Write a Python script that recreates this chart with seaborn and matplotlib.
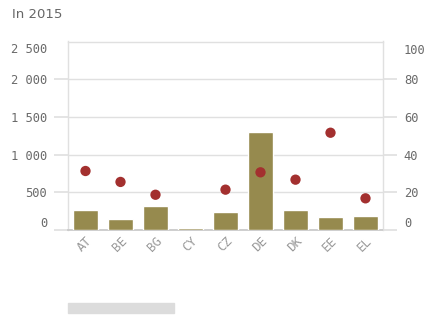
import matplotlib
matplotlib.use("Agg")
import matplotlib.pyplot as plt
import matplotlib.transforms as mtransforms
import seaborn as sns
import pandas as pd
from matplotlib.patches import Rectangle

countries = ["AT", "BE", "BG", "CY", "CZ", "DE", "DK", "EE", "EL"]
bar_values = [265, 150, 313, 22, 233, 1304, 260, 172, 180]
dot_values = [31.3, 25.5, 18.7, None, 21.4, 30.6, 26.7, 51.6, 16.8]
left_ticks = [0, 500, 1000, 1500, 2000, 2500]
left_labels = ["0", "500", "1 000", "1 500", "2 000", "2 500"]
right_ticks = [0, 20, 40, 60, 80, 100]
title = "In 2015"

sns.set_theme(style="white")
plt.rcParams["font.family"] = ["DejaVu Sans Mono", "DejaVu Sans"]

df = pd.DataFrame({"country": countries, "value": bar_values, "rate": dot_values})

fig = plt.figure(figsize=(4.26, 3.15), dpi=100)
ax = fig.add_axes([68/426, 1-230/315, (383-68)/426, (230-41.5)/315])
sns.barplot(data=df, x="country", y="value", color="#968A4E", saturation=1,
            width=0.71, ax=ax, zorder=3)
ax.set_ylim(0, 2500)
ax.set_yticks(left_ticks)
ax.set_yticklabels(left_labels)
ax.set_xlim(-0.5, len(countries) - 0.5)
ax.grid(axis="y", color="#e0e0e0", lw=1, zorder=0)
ax.set_axisbelow(True)
ax.set_xlabel("")
ax.set_ylabel("")
for s in ["left", "right", "top"]:
    ax.spines[s].set_color("#e0e0e0")
    ax.spines[s].set_linewidth(1)
ax.spines["bottom"].set_color("#c8c8c8")
ax.tick_params(axis="y", length=10, color="#e0e0e0", labelcolor="#6a6a6a",
               labelsize=8.7, pad=5, left=True)
ax.tick_params(axis="x", length=0, labelcolor="#999999", labelsize=9, pad=3)
for lab in ax.get_xticklabels():
    lab.set_rotation(45)
    lab.set_ha("right")
    lab.set_rotation_mode("anchor")

ax2 = ax.twinx()
sns.scatterplot(data=df, x="country", y="rate", color="#A3302F", s=55,
                edgecolor="none", ax=ax2, zorder=5)
ax2.set_ylim(0, 100)
ax2.set_yticks(right_ticks)
ax2.set_ylabel("")
ax2.set_xlim(-0.5, len(countries) - 0.5)
for s in ax2.spines.values():
    s.set_visible(False)
ax2.tick_params(axis="y", length=10, color="#e0e0e0", labelcolor="#6a6a6a",
                labelsize=8.7, pad=5, right=True)
ax2.grid(False)

# end labels pushed inside the plot range
up = mtransforms.ScaledTranslation(0, 8/100, fig.dpi_scale_trans)
down = mtransforms.ScaledTranslation(0, -7/100, fig.dpi_scale_trans)
for a in (ax, ax2):
    labs = a.get_yticklabels()
    labs[0].set_transform(labs[0].get_transform() + up)
    labs[-1].set_transform(labs[-1].get_transform() + down)
    a.yaxis.get_major_ticks()[-1].tick1line.set_visible(False)
    a.yaxis.get_major_ticks()[-1].tick2line.set_visible(False)

fig.text(12/426, 1-14/315, title, color="#666666", fontsize=9.5, va="center",
         family=["DejaVu Sans"])
fig.patches.append(Rectangle((68/426, 1-313/315), (174-68)/426, 10/315,
                             transform=fig.transFigure, color="#dcdcdc"))

fig.savefig("out.png", dpi=100)
